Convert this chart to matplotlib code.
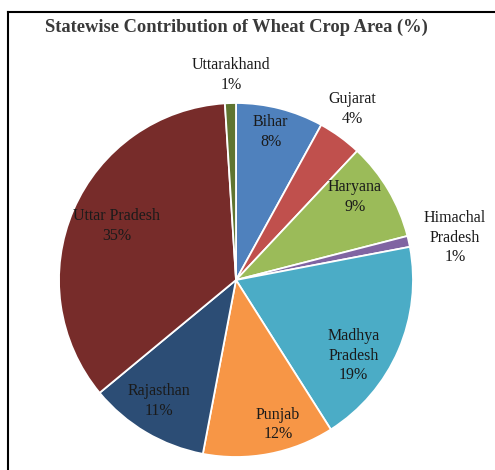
import numpy as np
import matplotlib
matplotlib.use("Agg")
import matplotlib.pyplot as plt
from matplotlib.lines import Line2D

states = ["Bihar", "Gujarat", "Haryana", "Himachal\nPradesh", "Madhya\nPradesh",
          "Punjab", "Rajasthan", "Uttar Pradesh", "Uttarakhand"]
shares = [8, 4, 9, 1, 19, 12, 11, 35, 1]
colors = ["#4F81BD", "#C0504D", "#9BBB59", "#8064A2", "#4BACC6",
          "#F79646", "#2C4D75", "#772C2A", "#5F7530"]

# label placement style (radius factor, angle tweak in degrees clockwise)
label_r = [0.86, 1.17, 0.82, 1.26, 0.79, 0.85, 0.81, 0.74, 1.16]
label_dt = [-1.2, -1.8, -4.3, 1.7, 9.4, -5.4, 1.7, 0.9, 0.5]

plt.rcParams['font.family'] = ['Liberation Serif', 'DejaVu Serif']

fig = plt.figure(figsize=(4.95, 4.70), dpi=100)
W, H = 495, 470
cx, cy, R = 236, 280, 177
ax = fig.add_axes([(cx - R) / W, (H - cy - R) / H, 2 * R / W, 2 * R / H])

wedges, _ = ax.pie(shares, colors=colors, startangle=90, counterclock=False,
                   wedgeprops=dict(edgecolor="white", linewidth=1.3), radius=1.0)
ax.set_xlim(-1, 1)
ax.set_ylim(-1, 1)
ax.set_aspect("equal")
ax.axis("off")

total = sum(shares)
cum = 0
for name, v, rf, dt in zip(states, shares, label_r, label_dt):
    mid = (cum + v / 2) / total * 360 + dt  # clockwise from top
    cum += v
    th = np.deg2rad(mid)
    x, y = rf * np.sin(th), rf * np.cos(th)
    ax.text(x, y, f"{name}\n{v}%", ha="center", va="center", fontsize=11.5,
            color="#1a1a1a", linespacing=1.3)

fig.text(236.5 / W, 1 - 27 / H, "Statewise Contribution of Wheat Crop Area (%)",
         ha="center", va="center", fontsize=13.3, fontweight="bold", color="#3a3a3a")

# frame (top and left visible)
fig.add_artist(Line2D([7.5 / W, 1.0], [1 - 11.5 / H, 1 - 11.5 / H], color="black", lw=1.5,
                      transform=fig.transFigure))
fig.add_artist(Line2D([7.5 / W, 7.5 / W], [0, 1 - 11.5 / H], color="black", lw=1.5,
                      transform=fig.transFigure))

fig.savefig("out.png", dpi=100)
